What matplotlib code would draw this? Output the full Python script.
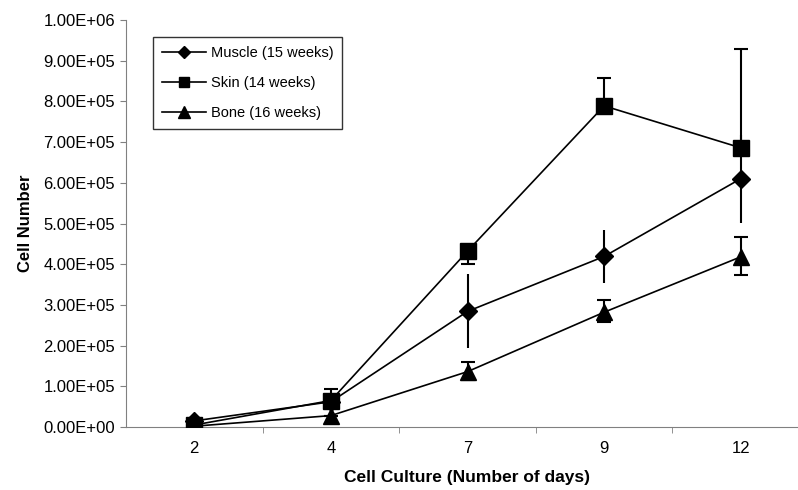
import numpy as np
import matplotlib
matplotlib.use("Agg")
import matplotlib.pyplot as plt
from matplotlib.ticker import FuncFormatter, FixedLocator

plt.rcParams['font.family'] = ['Liberation Sans', 'DejaVu Sans']

days = ['2', '4', '7', '9', '12']

muscle = [1.5e4, 6.2e4, 2.84e5, 4.19e5, 6.10e5]
muscle_err = [0, 0, 9.1e4, 6.6e4, 1.08e5]

skin = [5e3, 6.5e4, 4.32e5, 7.89e5, 6.86e5]
skin_err_lo = [0, 0, 3.2e4, 0, 0]
skin_err_hi = [0, 2.8e4, 0, 6.9e4, 2.43e5]

bone = [2e3, 2.8e4, 1.36e5, 2.82e5, 4.18e5]
bone_err_lo = [0, 0, 2.0e4, 2.5e4, 4.5e4]
bone_err_hi = [0, 0, 2.4e4, 3.1e4, 4.8e4]

fig = plt.figure(figsize=(7.98, 4.90), dpi=100)
ax = fig.add_axes([126/798, 63/490, 683/798, 407/490])

x = np.arange(len(days))

ax.errorbar(x, muscle, yerr=muscle_err, color='black', lw=1.2, marker='D', ms=9,
            elinewidth=1.5, capsize=0, label='Muscle (15 weeks)', zorder=3)
ax.errorbar(x, skin, yerr=[skin_err_lo, skin_err_hi], color='black', lw=1.2, marker='s', ms=11,
            elinewidth=1.5, capsize=5, capthick=1.5, label='Skin (14 weeks)', zorder=3)
ax.errorbar(x, bone, yerr=[bone_err_lo, bone_err_hi], color='black', lw=1.2, marker='^', ms=12,
            elinewidth=1.5, capsize=5, capthick=1.5, label='Bone (16 weeks)', zorder=3)

ax.set_xlim(-0.5, len(days) - 0.5)
ax.set_ylim(0, 1e6)
ax.set_xticks(x)
ax.set_xticklabels(days)
ax.xaxis.set_minor_locator(FixedLocator(x[:-1] + 0.5))
ax.tick_params(axis='x', which='major', length=0, pad=10, labelsize=12)
ax.tick_params(axis='x', which='minor', length=4, direction='out', color='gray')
ax.set_yticks(np.arange(0, 1.0e6 + 1, 1e5))
ax.yaxis.set_major_formatter(FuncFormatter(lambda v, p: f"{v:.2E}"))
ax.tick_params(axis='y', length=4, direction='out', color='gray', labelsize=12, pad=4)

for s in ['top', 'right']:
    ax.spines[s].set_visible(False)
for s in ['left', 'bottom']:
    ax.spines[s].set_color('gray')

ax.set_xlabel('Cell Culture (Number of days)', fontweight='bold', fontsize=12.5, labelpad=10)
ax.set_ylabel('Cell Number', fontweight='bold', fontsize=12, labelpad=7)

handles, labels = ax.get_legend_handles_labels()
handles = [h[0] for h in handles]
leg = fig.legend(handles, labels, loc='upper left', bbox_to_anchor=(153/798, 1 - 37/490),
                 frameon=True, fancybox=False, edgecolor='black', fontsize=10.5,
                 handlelength=3.0, handletextpad=0.35, borderpad=0.6, borderaxespad=0,
                 markerscale=0.7, labelspacing=1.1)
leg.get_frame().set_linewidth(1.0)

fig.savefig('out.png', dpi=100)
